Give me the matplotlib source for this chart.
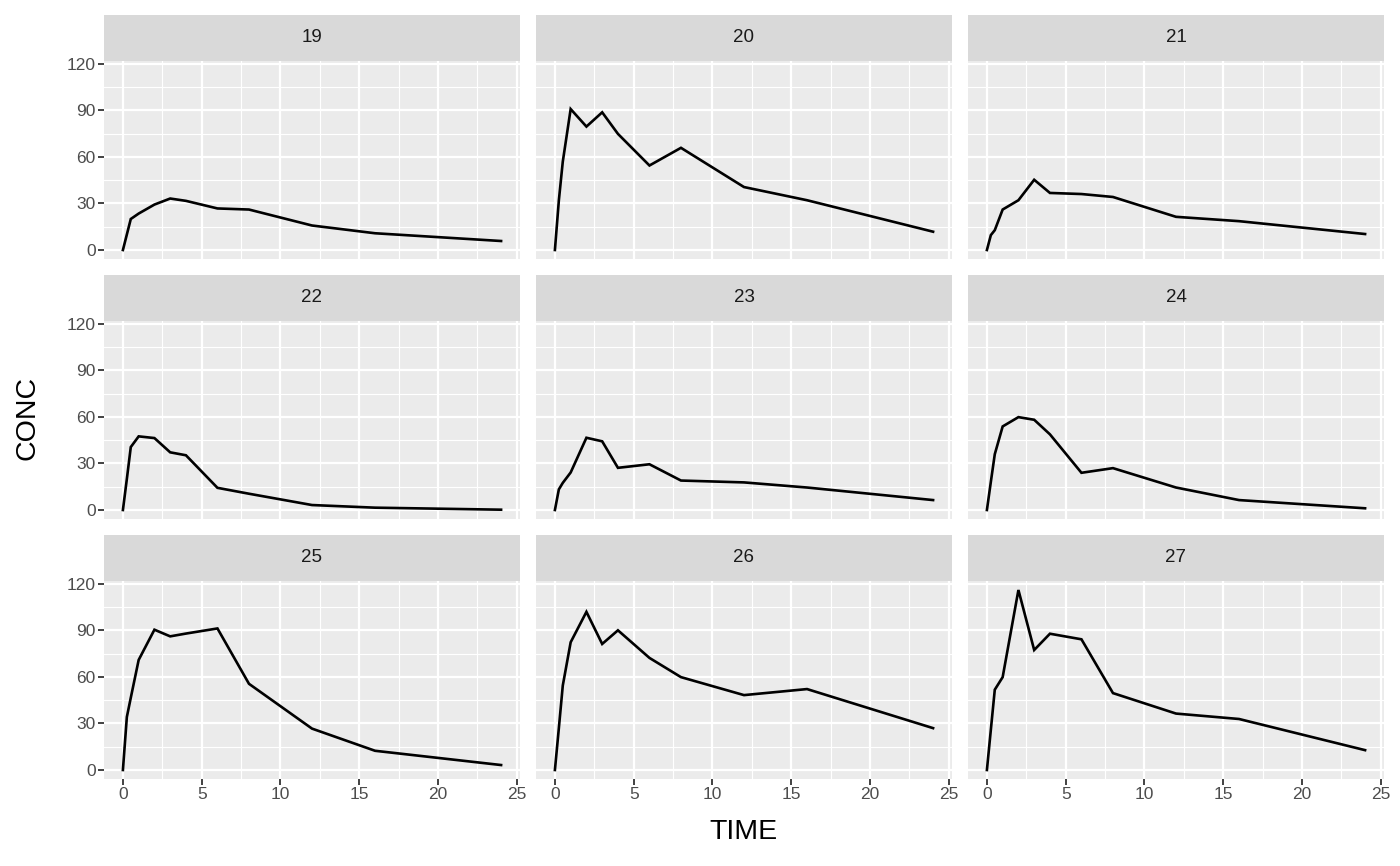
import matplotlib
matplotlib.use("Agg")
import matplotlib.pyplot as plt
import numpy as np

plt.rcParams['font.family'] = ['Liberation Sans', 'DejaVu Sans']

subjects = ["19", "20", "21", "22", "23", "24", "25", "26", "27"]
time = [0, 0.25, 0.5, 1, 2, 3, 4, 6, 8, 12, 16, 24]
conc_19 = [0, 10, 20, 23.5, 29.3, 33.2, 31.7, 26.8, 26.1, 15.8, 10.8, 5.8]
conc_20 = [0, 32, 57, 90.9, 79.6, 88.8, 74.9, 54.5, 65.9, 40.6, 32.1, 11.8]
conc_21 = [0, 9.6, 12.8, 26.1, 32.1, 45.3, 36.8, 36.1, 34.2, 21.4, 18.6, 10.3]
conc_22 = [0, 20, 40.6, 47.5, 46.4, 37.2, 35.3, 14.3, 10.5, 3.2, 1.5, 0.2]
conc_23 = [0, 13.3, 17.5, 24.2, 46.6, 44.3, 27.2, 29.5, 19.0, 17.8, 14.5, 6.4]
conc_24 = [0, 18.2, 36, 53.9, 59.9, 58.2, 48.8, 24.0, 27.0, 14.5, 6.4, 1.1]
conc_25 = [0, 34.2, 46.6, 71.0, 90.5, 86.2, 88.0, 91.3, 55.6, 26.7, 12.4, 3.2]
conc_26 = [0, 27, 54.5, 82.4, 102.0, 81.3, 90.1, 72.3, 59.9, 48.3, 52.2, 27.0]
conc_27 = [0, 26, 51.8, 59.9, 116.1, 77.4, 87.9, 84.3, 49.6, 36.4, 32.9, 12.8]
concs = [conc_19, conc_20, conc_21, conc_22, conc_23, conc_24, conc_25, conc_26, conc_27]

x_ticks = [0, 5, 10, 15, 20, 25]
y_ticks = [0, 30, 60, 90, 120]

W, H = 1400, 866
fig = plt.figure(figsize=(W / 100, H / 100), dpi=100)

col_left = [104, 536, 968]
panel_w = 416
row_top = [61, 321, 581]
panel_h = 198
strip_h = 46

ymax_data = max(max(c) for c in concs)
yr = ymax_data * 0.05
xr = 24 * 0.05

for i, (s, c) in enumerate(zip(subjects, concs)):
    r, k = divmod(i, 3)
    left = col_left[k] / W
    bottom = 1 - (row_top[r] + panel_h) / H
    ax = fig.add_axes([left, bottom, panel_w / W, panel_h / H])
    ax.set_facecolor('#EBEBEB')
    ax.set_xlim(-xr, 24 + xr)
    ax.set_ylim(-yr, ymax_data + yr)
    ax.set_xticks(x_ticks)
    ax.set_yticks(y_ticks)
    ax.set_xticks([2.5, 7.5, 12.5, 17.5, 22.5], minor=True)
    ax.set_yticks([15, 45, 75, 105], minor=True)
    ax.grid(which='major', color='white', linewidth=1.6)
    ax.grid(which='minor', color='white', linewidth=0.8)
    ax.set_axisbelow(True)
    for sp in ax.spines.values():
        sp.set_visible(False)
    ax.plot(time, c, color='black', linewidth=1.9, solid_joinstyle='miter')
    ax.tick_params(which='minor', length=0)
    ax.tick_params(which='major', length=4, width=1.3, color='#333333',
                   labelsize=12.5, labelcolor='#4D4D4D', pad=2)
    if k != 0:
        ax.tick_params(axis='y', which='major', length=0, labelleft=False)
    if r != 2:
        ax.tick_params(axis='x', which='major', length=0, labelbottom=False)
    # strip
    sax = fig.add_axes([left, 1 - (row_top[r]) / H, panel_w / W, strip_h / H])
    sax.set_facecolor('#D9D9D9')
    sax.set_xticks([])
    sax.set_yticks([])
    for sp in sax.spines.values():
        sp.set_visible(False)
    sax.text(0.5, 0.5, s, ha='center', va='center', fontsize=13.5,
             color='#1A1A1A', transform=sax.transAxes)

fig.text(743 / W, 1 - 832 / H, "TIME", ha='center', va='center', fontsize=20.5, color='black')
fig.text(28 / W, 1 - 418 / H, "CONC", ha='center', va='center', fontsize=20.5,
         color='black', rotation=90)

fig.savefig("out.png", dpi=100)
